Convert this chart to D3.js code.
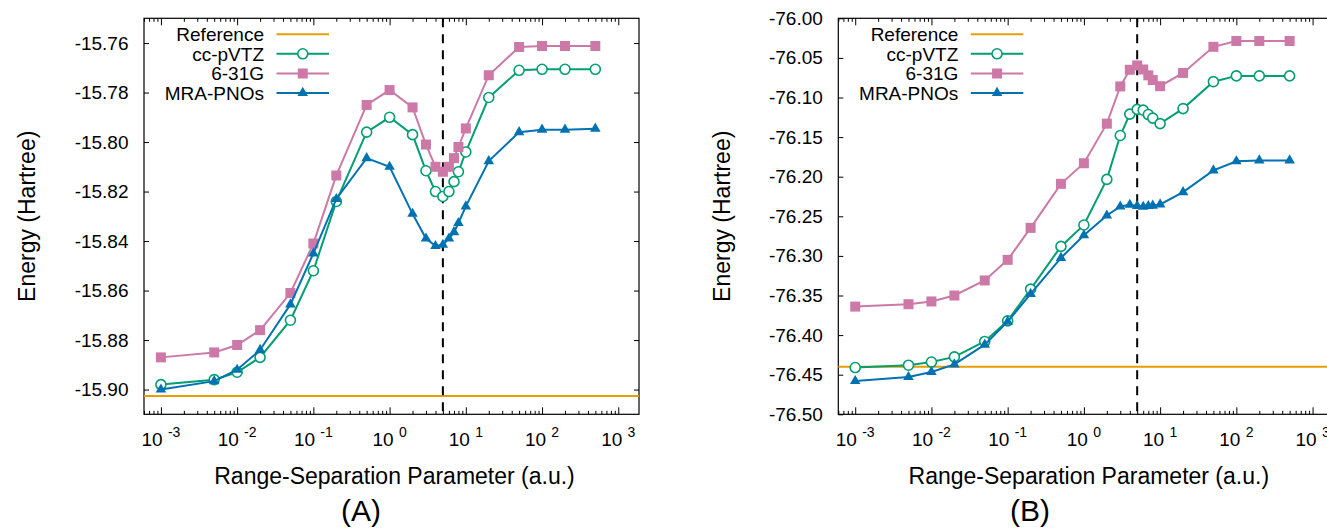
<!DOCTYPE html>
<html>
<head>
<meta charset="utf-8">
<script src="https://cdn.jsdelivr.net/npm/d3@7"></script>
<style>
  body { margin: 0; background: #fff; }
  text { font-family: "Liberation Sans", Arial, Helvetica, sans-serif; fill: #000; }
</style>
</head>
<body>
<div id="chart"></div>
<script>
// range-separation parameter values (shared by both panels)
var lambdas = [0.001, 0.005, 0.01, 0.02, 0.05, 0.1, 0.2, 0.5, 1, 2, 3, 4, 5, 6, 7, 8, 10, 20, 50, 100, 200, 500];

// Panel (A)
var refA = -15.9026;
var ccpvtzA = [-15.898, -15.896, -15.893, -15.887, -15.872, -15.852, -15.824, -15.796, -15.790, -15.797, -15.8116,
    -15.820, -15.822, -15.820, -15.816, -15.812, -15.804, -15.782, -15.771, -15.7706, -15.7706, -15.7706];
var g631A = [-15.887, -15.885, -15.882, -15.876, -15.861, -15.841, -15.8135, -15.785, -15.779, -15.786, -15.801,
    -15.810, -15.812, -15.810, -15.8065, -15.802, -15.7945, -15.773, -15.7616, -15.7612, -15.7612, -15.7612];
var mraA = [-15.900, -15.8966, -15.892, -15.884, -15.8656, -15.845, -15.823, -15.8065, -15.810, -15.829, -15.839,
    -15.842, -15.8415, -15.839, -15.8364, -15.8327, -15.826, -15.8077, -15.796, -15.795, -15.795, -15.7946];

// Panel (B)
var refB = -76.440;
var ccpvtzB = [-76.441, -76.438, -76.434, -76.4275, -76.408, -76.382, -76.342, -76.288, -76.261, -76.2034, -76.148,
    -76.121, -76.115, -76.116, -76.1215, -76.126, -76.133, -76.114, -76.080, -76.0727, -76.0727, -76.0727];
var g631B = [-76.364, -76.361, -76.3575, -76.350, -76.331, -76.305, -76.2646, -76.209, -76.183, -76.133, -76.086,
    -76.065, -76.0595, -76.0646, -76.072, -76.078, -76.0857, -76.069, -76.036, -76.0287, -76.0287, -76.0287];
var mraB = [-76.458, -76.453, -76.4465, -76.437, -76.412, -76.383, -76.348, -76.3025, -76.274, -76.249, -76.2376,
    -76.2355, -76.237, -76.238, -76.237, -76.2365, -76.235, -76.2195, -76.192, -76.1806, -76.1794, -76.1794];

var dashedAt = 5;

// tick labels
var yTicksA = [-15.76, -15.78, -15.80, -15.82, -15.84, -15.86, -15.88, -15.90];
var yLabelsA = ["-15.76", "-15.78", "-15.80", "-15.82", "-15.84", "-15.86", "-15.88", "-15.90"];
var yTicksB = [-76.00, -76.05, -76.10, -76.15, -76.20, -76.25, -76.30, -76.35, -76.40, -76.45, -76.50];
var yLabelsB = ["-76.00", "-76.05", "-76.10", "-76.15", "-76.20", "-76.25", "-76.30", "-76.35", "-76.40", "-76.45", "-76.50"];
var xExponents = [-3, -2, -1, 0, 1, 2, 3];

var seriesNames = ["Reference", "cc-pVTZ", "6-31G", "MRA-PNOs"];
var colors = { ref: "#E69F00", cc: "#009E73", g: "#CC79A7", mra: "#0072B2" };

var W = 1327, H = 528;
var svg = d3.select("#chart").append("svg")
    .attr("width", W).attr("height", H)
    .style("display", "block");

var panels = [
    { left: 144, yDomain: [-15.91, -15.75], ref: refA, cc: ccpvtzA, g: g631A, mra: mraA,
      ticks: yTicksA, labels: yLabelsA, tag: "(A)", tagX: 361, yTitleX: 35 },
    { left: 838.3, yDomain: [-76.50, -76.00], ref: refB, cc: ccpvtzB, g: g631B, mra: mraB,
      ticks: yTicksB, labels: yLabelsB, tag: "(B)", tagX: 1030, yTitleX: 730 }
];

var plotW = 495, plotTop = 18.3, plotBottom = 414.3;

panels.forEach(function (p) {
    var x = d3.scaleLog().domain([6e-4, 1870]).range([p.left, p.left + plotW]);
    var y = d3.scaleLinear().domain(p.yDomain).range([plotBottom, plotTop]);

    var g = svg.append("g");

    // minor / major x ticks (bottom and top, pointing inward)
    var minors = [];
    for (var e = -4; e <= 3; e++) {
        for (var m = 2; m <= 9; m++) {
            var v = m * Math.pow(10, e);
            if (v > 6e-4 && v < 1870) minors.push(v);
        }
    }
    var majors = xExponents.map(function (e) { return Math.pow(10, e); });

    g.append("g").attr("transform", "translate(0," + plotBottom + ")")
        .call(d3.axisBottom(x).tickValues(minors).tickSize(-3.5).tickFormat(""));
    g.append("g").attr("transform", "translate(0," + plotBottom + ")")
        .call(d3.axisBottom(x).tickValues(majors).tickSize(-7).tickFormat(""));
    g.append("g").attr("transform", "translate(0," + plotTop + ")")
        .call(d3.axisTop(x).tickValues(minors).tickSize(-3.5).tickFormat(""));
    g.append("g").attr("transform", "translate(0," + plotTop + ")")
        .call(d3.axisTop(x).tickValues(majors).tickSize(-7).tickFormat(""));

    // y ticks
    g.append("g").attr("class", "yaxis").attr("transform", "translate(" + p.left + ",0)")
        .call(d3.axisLeft(y).tickValues(p.ticks).tickSize(-5).tickPadding(15.5)
            .tickFormat(function (d, i) { return p.labels[i]; }));
    g.append("g").attr("transform", "translate(" + (p.left + plotW) + ",0)")
        .call(d3.axisRight(y).tickValues(p.ticks).tickSize(-5).tickFormat(""));

    g.selectAll(".domain").remove();
    g.selectAll(".tick line").attr("stroke", "#000").attr("stroke-width", 1);
    g.selectAll(".yaxis text").style("font-size", "19px")
        .style("font-family", "'Liberation Sans', Arial, sans-serif").attr("fill", "#000");

    // x tick labels 10^n
    xExponents.forEach(function (e) {
        var t = g.append("text")
            .attr("x", x(Math.pow(10, e)))
            .attr("y", 446)
            .attr("text-anchor", "middle")
            .style("font-size", "19px");
        t.append("tspan").text("10 ");
        t.append("tspan").attr("dy", -9).style("font-size", "14px").text(e);
    });

    // border
    g.append("rect")
        .attr("x", p.left).attr("y", plotTop)
        .attr("width", plotW).attr("height", plotBottom - plotTop)
        .attr("fill", "none").attr("stroke", "#000").attr("stroke-width", 1.2);

    // reference line
    g.append("line")
        .attr("x1", p.left).attr("x2", p.left + plotW)
        .attr("y1", y(p.ref)).attr("y2", y(p.ref))
        .attr("stroke", colors.ref).attr("stroke-width", 2);

    // dashed vertical line
    g.append("line")
        .attr("x1", x(dashedAt)).attr("x2", x(dashedAt))
        .attr("y1", plotTop).attr("y2", plotBottom)
        .attr("stroke", "#000").attr("stroke-width", 2)
        .attr("stroke-dasharray", "9,7");

    var line = d3.line()
        .x(function (d, i) { return x(lambdas[i]); })
        .y(function (d) { return y(d); });

    // cc-pVTZ
    g.append("path").datum(p.cc)
        .attr("fill", "none").attr("stroke", colors.cc).attr("stroke-width", 2)
        .attr("d", line);
    g.append("g").selectAll("circle").data(p.cc).enter().append("circle")
        .attr("cx", function (d, i) { return x(lambdas[i]); })
        .attr("cy", function (d) { return y(d); })
        .attr("r", 5)
        .attr("fill", "#fff").attr("stroke", colors.cc).attr("stroke-width", 1.6);

    // 6-31G
    g.append("path").datum(p.g)
        .attr("fill", "none").attr("stroke", colors.g).attr("stroke-width", 2)
        .attr("d", line);
    g.append("g").selectAll("rect").data(p.g).enter().append("rect")
        .attr("x", function (d, i) { return x(lambdas[i]) - 5; })
        .attr("y", function (d) { return y(d) - 5; })
        .attr("width", 10).attr("height", 10)
        .attr("fill", colors.g);

    // MRA-PNOs
    var tri = d3.symbol().type(d3.symbolTriangle).size(48);
    g.append("path").datum(p.mra)
        .attr("fill", "none").attr("stroke", colors.mra).attr("stroke-width", 2)
        .attr("d", line);
    g.append("g").selectAll("path").data(p.mra).enter().append("path")
        .attr("d", tri)
        .attr("transform", function (d, i) { return "translate(" + x(lambdas[i]) + "," + y(d) + ")"; })
        .attr("fill", colors.mra);

    // legend
    var lg = g.append("g").attr("transform", "translate(" + p.left + "," + plotTop + ")");
    var rowY = [16, 35.5, 55.2, 74.6];
    var lgColors = [colors.ref, colors.cc, colors.g, colors.mra];
    seriesNames.forEach(function (name, i) {
        lg.append("text")
            .attr("x", 120).attr("y", rowY[i]).attr("dy", "0.36em")
            .attr("text-anchor", "end")
            .style("font-size", "19px")
            .text(name);
        lg.append("line")
            .attr("x1", 132.5).attr("x2", 185)
            .attr("y1", rowY[i]).attr("y2", rowY[i])
            .attr("stroke", lgColors[i]).attr("stroke-width", 2);
    });
    var mx = (132.5 + 185) / 2;
    lg.append("circle").attr("cx", mx).attr("cy", rowY[1]).attr("r", 5)
        .attr("fill", "#fff").attr("stroke", colors.cc).attr("stroke-width", 1.6);
    lg.append("rect").attr("x", mx - 5).attr("y", rowY[2] - 5).attr("width", 10).attr("height", 10)
        .attr("fill", colors.g);
    lg.append("path").attr("d", tri)
        .attr("transform", "translate(" + mx + "," + rowY[3] + ")")
        .attr("fill", colors.mra);

    // axis titles
    svg.append("text")
        .attr("transform", "translate(" + p.yTitleX + "," + ((plotTop + plotBottom) / 2) + ") rotate(-90)")
        .attr("text-anchor", "middle")
        .style("font-size", "23px")
        .text("Energy (Hartree)");
    svg.append("text")
        .attr("x", p.left + plotW / 2 + 3)
        .attr("y", 484)
        .attr("text-anchor", "middle")
        .style("font-size", "23px")
        .text("Range-Separation Parameter (a.u.)");
    svg.append("text")
        .attr("x", p.tagX)
        .attr("y", 521)
        .attr("text-anchor", "middle")
        .style("font-size", "30px")
        .text(p.tag);
});
</script>
</body>
</html>
